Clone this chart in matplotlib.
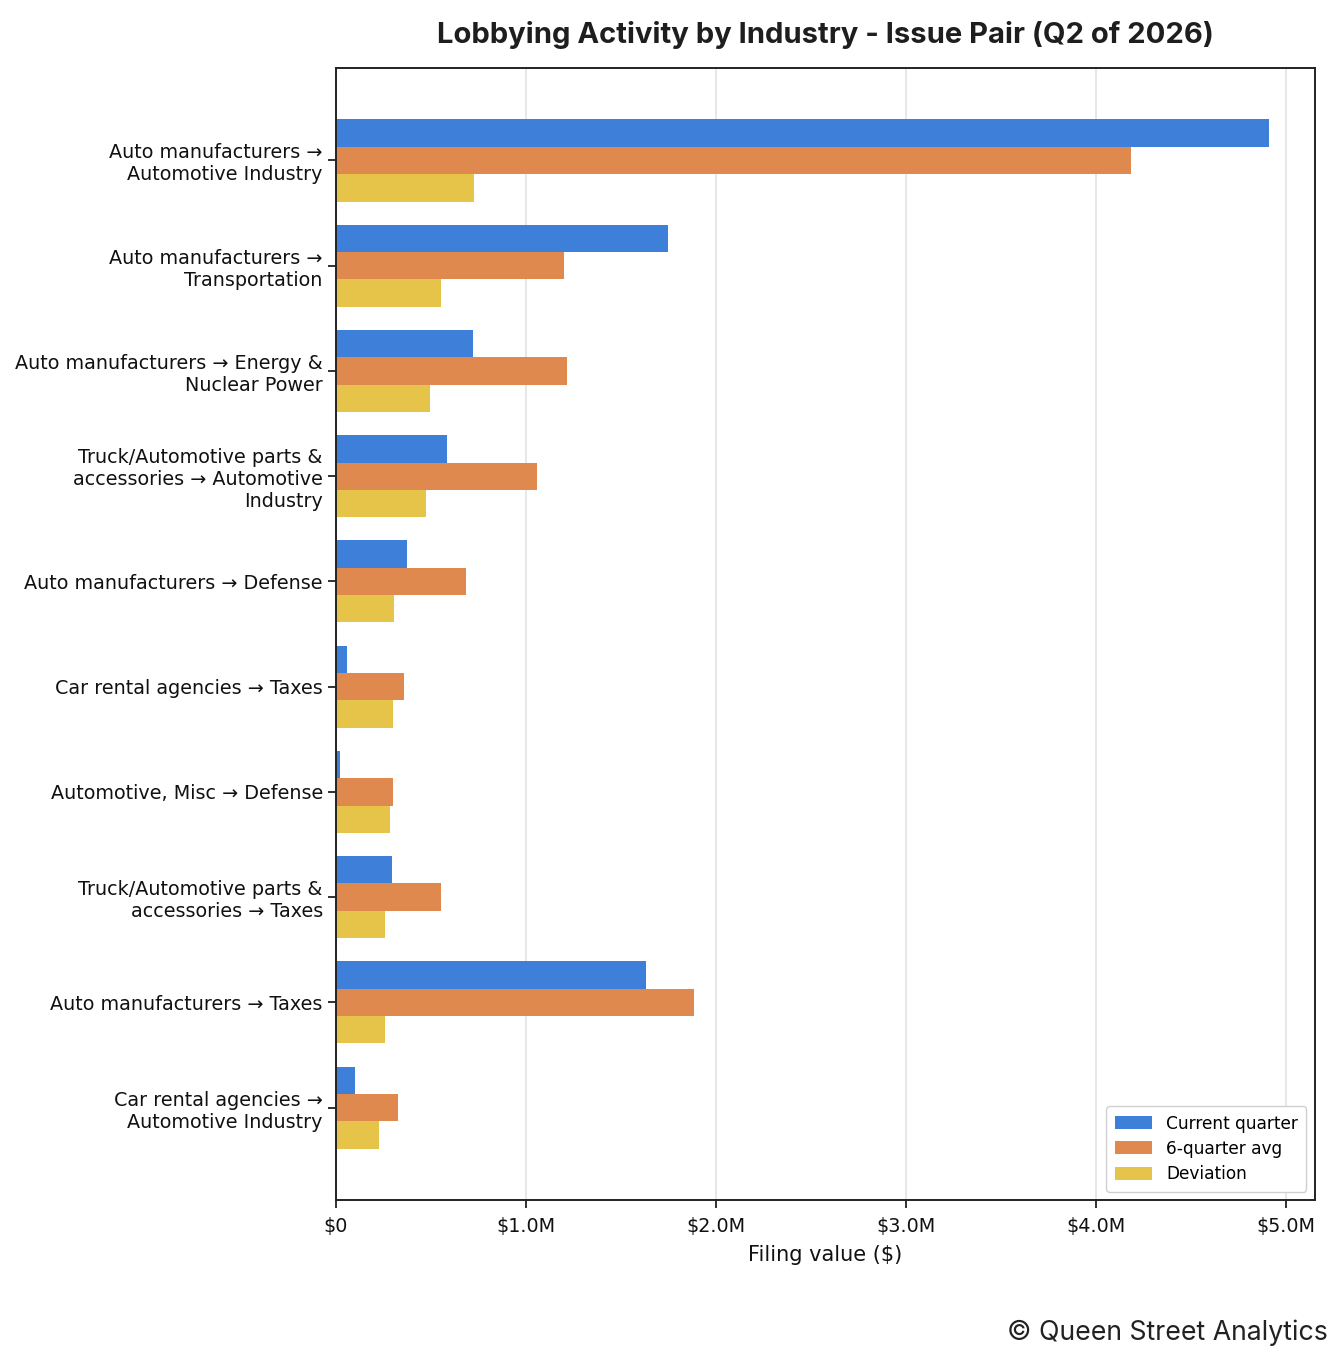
import matplotlib
matplotlib.use("Agg")
import matplotlib.pyplot as plt
import numpy as np
from matplotlib.ticker import FuncFormatter
from matplotlib import font_manager as fm

plt.rcParams["font.family"] = ["DejaVu Sans"]

def inter(style_file):
    for f in fm.fontManager.ttflist:
        if f.fname.endswith(style_file):
            return f.fname
    return None

INTER_BOLD = inter("Inter-Bold.otf")
INTER_REG = inter("Inter-Regular.otf")

categories = [
    "Auto manufacturers →\nAutomotive Industry",
    "Auto manufacturers →\nTransportation",
    "Auto manufacturers → Energy &\nNuclear Power",
    "Truck/Automotive parts &\naccessories → Automotive\nIndustry",
    "Auto manufacturers → Defense",
    "Car rental agencies → Taxes",
    "Automotive, Misc → Defense",
    "Truck/Automotive parts &\naccessories → Taxes",
    "Auto manufacturers → Taxes",
    "Car rental agencies →\nAutomotive Industry",
]
current_quarter = [4.910e6, 1.747e6, 0.721e6, 0.584e6, 0.374e6, 0.058e6, 0.021e6, 0.295e6, 1.632e6, 0.100e6]
six_quarter_avg = [4.184e6, 1.200e6, 1.216e6, 1.058e6, 0.684e6, 0.358e6, 0.300e6, 0.553e6, 1.884e6, 0.326e6]
deviation = [0.726e6, 0.553e6, 0.495e6, 0.474e6, 0.305e6, 0.300e6, 0.284e6, 0.258e6, 0.258e6, 0.226e6]
series_names = ["Current quarter", "6-quarter avg", "Deviation"]
colors = ["#3d7fd9", "#e0894e", "#e6c44a"]

fig = plt.figure(figsize=(13.41, 13.6), dpi=100)
renderer = fig.canvas.get_renderer()

def fit_size(text, target_px, fp=None):
    t = fig.text(0, 0, text, fontsize=10, fontproperties=fp)
    if fp is not None:
        t.set_fontsize(10)
    w = t.get_window_extent(renderer).width
    t.remove()
    return 10 * target_px / w

tick_fs = fit_size("Auto manufacturers → Defense", 298)
leg_fs = fit_size("Current quarter", 133)
xlab_fs = fit_size("Filing value ($)", 154)
title_fp = fm.FontProperties(fname=INTER_BOLD) if INTER_BOLD else fm.FontProperties(family="DejaVu Sans", weight="bold")
copy_fp = fm.FontProperties(fname=INTER_REG) if INTER_REG else fm.FontProperties(family="DejaVu Sans")
title_fs = fit_size("Lobbying Activity by Industry - Issue Pair (Q2 of 2026)", 777, title_fp)
copy_fs = fit_size("© Queen Street Analytics", 322, copy_fp)

ax = fig.add_axes([0.2506, 0.1176, 0.73, 0.8324])

y = np.arange(len(categories))
h = 0.26
for i, (vals, name, c) in enumerate(zip([current_quarter, six_quarter_avg, deviation], series_names, colors)):
    ax.barh(y + (i - 1) * h, vals, height=h, color=c, label=name, zorder=2)

ax.set_yticks(y)
ax.set_yticklabels(categories, fontsize=tick_fs)
ax.invert_yaxis()
ax.set_xlim(0, 5.153e6)

def fmt(v, pos):
    if v == 0:
        return "$0"
    return f"${v/1e6:.1f}M"
ax.xaxis.set_major_formatter(FuncFormatter(fmt))
ax.set_xticks([0, 1e6, 2e6, 3e6, 4e6, 5e6])
ax.tick_params(axis="x", labelsize=tick_fs, length=6, width=1.3, pad=6, color="#222222", labelcolor="#111111")
ax.tick_params(axis="y", length=6, width=1.3, color="#222222", labelcolor="#111111")
ax.grid(axis="x", color="#e3e3e3", linewidth=1.2, zorder=0)
ax.set_axisbelow(True)
for s in ax.spines.values():
    s.set_color("#222222")
    s.set_linewidth(1.4)

ax.set_xlabel("Filing value ($)", fontsize=xlab_fs, labelpad=7, color="#111111")
title_fp.set_size(title_fs)
ax.set_title("Lobbying Activity by Industry - Issue Pair (Q2 of 2026)",
             fontproperties=title_fp, pad=18, color="#1e1e1e")

ax.legend(loc="lower right", fontsize=leg_fs, frameon=True, framealpha=1, edgecolor="#d0d0d0",
          handlelength=2.15, handleheight=0.8, handletextpad=0.85, borderpad=0.5,
          labelspacing=0.42, borderaxespad=0.5)

copy_fp.set_size(copy_fs)
fig.text(0.99, 0.0105, "© Queen Street Analytics", ha="right", va="bottom",
         fontproperties=copy_fp, color="#222222")

fig.savefig("out.png", dpi=100)
